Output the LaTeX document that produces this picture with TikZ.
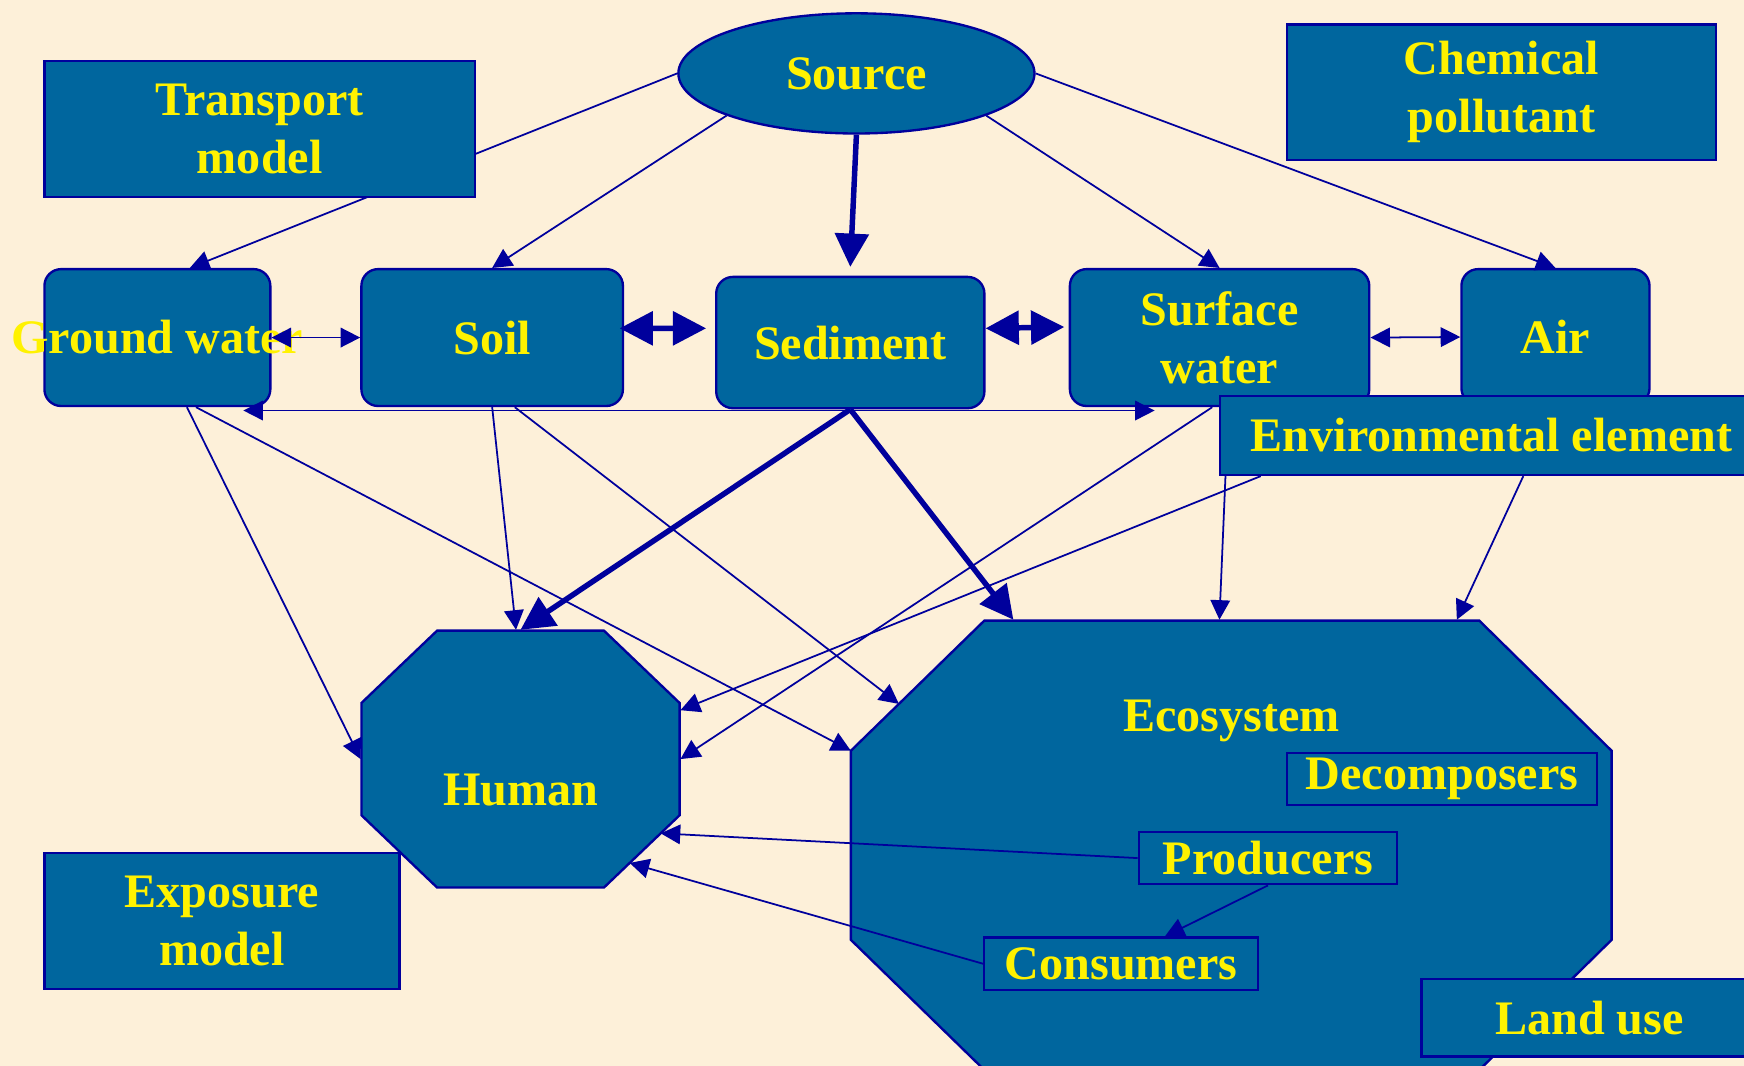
\documentclass[tikz,border=0pt]{standalone}
\usepackage{fontspec}
\setmainfont{Liberation Serif}
\usetikzlibrary{positioning}
\usetikzlibrary{shapes.geometric, arrows.meta, calc}

\definecolor{paper}{HTML}{FDF0D9}
\definecolor{boxblue}{HTML}{00669E}
\definecolor{edgeblue}{HTML}{00009C}

\tikzset{
	tag/.style={draw=edgeblue, fill=boxblue, text=yellow, font=\bfseries\fontsize{12.3}{14.8}\selectfont, align=center, inner sep=0pt, line width=0.6pt},
	medium/.style={tag, rounded corners=0.15cm},
	frame/.style={inner sep=0pt},
	octagon/.style={draw=edgeblue, fill=boxblue, line width=0.6pt},
	inscription/.style={text=yellow, font=\bfseries\fontsize{12.3}{14.8}\selectfont, inner sep=0pt},
	flow/.style={edgeblue, line width=0.45pt, -{Triangle[length=5pt,width=5pt]}},
	bigflow/.style={edgeblue, line width=1.4pt, -{Triangle[length=8.5pt,width=8.5pt]}},
	exchange/.style={edgeblue, line width=0.45pt, {Triangle[length=5pt,width=5pt]}-{Triangle[length=5pt,width=5pt]}},
	bigexchange/.style={edgeblue, line width=1.4pt, {Triangle[length=8.5pt,width=8.5pt]}-{Triangle[length=8.5pt,width=8.5pt]}},
}

\begin{document}
\begin{tikzpicture}[x=0.01cm, y=-0.01cm]
	\fill[paper] (0,0) rectangle (1568,958);
	\useasboundingbox (0,0) rectangle (1568,958);

	% source and the five media
	\node[tag, ellipse, minimum width=3.2cm, minimum height=1.08cm] (source) at (770,66) {Source};
	\node[tag, minimum width=3.86cm, minimum height=1.22cm] (chemical) at (1350,83) {Chemical\\pollutant};
	\node[medium, minimum width=2.03cm, minimum height=1.23cm] (ground) at (141.5,303.5) {\makebox[0pt]{Ground water}};
	\node[medium, minimum width=2.35cm, minimum height=1.23cm] (soil) at (442.5,303.5) {Soil};
	\node[medium, minimum width=2.41cm, minimum height=1.18cm] (sediment) at (764.5,308) {Sediment};
	\node[medium, minimum width=2.69cm, minimum height=1.23cm] (surface) at (1096.5,303.5) {Surface\\water};
	\node[medium, minimum width=1.69cm, minimum height=1.22cm] (air) at (1398.5,303) {Air};
	\node[tag, minimum width=4.88cm, minimum height=0.71cm] (element) at (1341,391.5) {Environmental element};

	% receptors
	\node[frame, minimum width=2.86cm, minimum height=2.31cm] (human) at (468,682.5) {};
	\filldraw[octagon] (393,567) coordinate (h1) -- (543,567) coordinate (h2) -- (611,632) coordinate (h3)
		-- (611,733) coordinate (h4) -- (543,798) coordinate (h5) -- (393,798) coordinate (h6)
		-- (325,733) coordinate (h7) -- (325,632) coordinate (h8) -- cycle;
	\node[inscription] (humanname) at (468,710) {Human};
	\node[frame, minimum width=6.84cm, minimum height=4.04cm] (eco) at (1107,760) {};
	\filldraw[octagon] (885,558) coordinate (e1) -- (1330,558) coordinate (e2) -- (1449,675) coordinate (e3)
		-- (1449,845) coordinate (e4) -- (1330,962) coordinate (e5) -- (885,962) coordinate (e6)
		-- (765,845) coordinate (e7) -- (765,675) coordinate (e8) -- cycle;
	\node[inscription] (econame) at (1107,648) {Ecosystem};
	\node[tag, minimum width=2.79cm, minimum height=0.47cm] (decomposers) at (1296.5,700.5) {Decomposers};
	\node[tag, minimum width=2.32cm, minimum height=0.47cm] (producers) at (1140,771.5) {Producers};
	\node[tag, minimum width=2.46cm, minimum height=0.47cm] (consumers) at (1008,866.5) {Consumers};
	\node[tag, minimum width=3.02cm, minimum height=0.7cm] (landuse) at (1429,915) {Land use};
	\node[tag, minimum width=3.19cm, minimum height=1.22cm] (exposure) at (199.5,828) {Exposure\\model};

	% release
	\draw[flow] (source.west) -- (ground.65);
	\draw[flow] (source.198) -- (soil.north);
	\draw[bigflow] (source.south) -- ([yshift=0.08cm]sediment.north);
	\draw[flow] (source.342) -- (surface.north);
	\draw[flow] (source.east) -- (air.north);

	% exchange between media
	\draw[exchange] (ground.east) -- (soil.west);
	\draw[bigexchange] ([xshift=-0.04cm]soil.4) -- ([xshift=-0.08cm]sediment.174);
	\draw[bigexchange] (sediment.6) -- ([xshift=-0.04cm]surface.176);
	\draw[exchange] (surface.east) -- (air.west);
	\draw[exchange] ([yshift=-0.03cm]ground.-39) -- ([yshift=-0.03cm]surface.227);

	% exposure
	\draw[flow] (ground.-67.5) -- (human.west);
	\draw[flow] (ground.-61) -- (e8);
	\draw[flow] (soil.south) -- (human.92);
	\draw[flow] (soil.-72) -- ($(e8)!0.36!(e1)$);
	\draw[bigflow] (sediment.south) -- (human.north);
	\draw[bigflow] (sediment.south) -- (eco.134);
	\draw[flow] (surface.264) -- (human.east);
	\draw[flow] (element.190) -- (human.17);
	\draw[flow] ([xshift=0.06cm]element.south west) -- (eco.93);
	\draw[flow] (element.-52) -- (eco.45);
	\draw[flow] (producers.west) -- ($(h4)!0.25!(h5)$);
	\draw[flow] (consumers.west) -- ($(h4)!0.66!(h5)$);
	\draw[flow] (producers.south) -- (consumers.32);

	\node[tag, minimum width=3.87cm, minimum height=1.22cm] (transport) at (233.5,116) {Transport\\model};
\end{tikzpicture}
\end{document}
